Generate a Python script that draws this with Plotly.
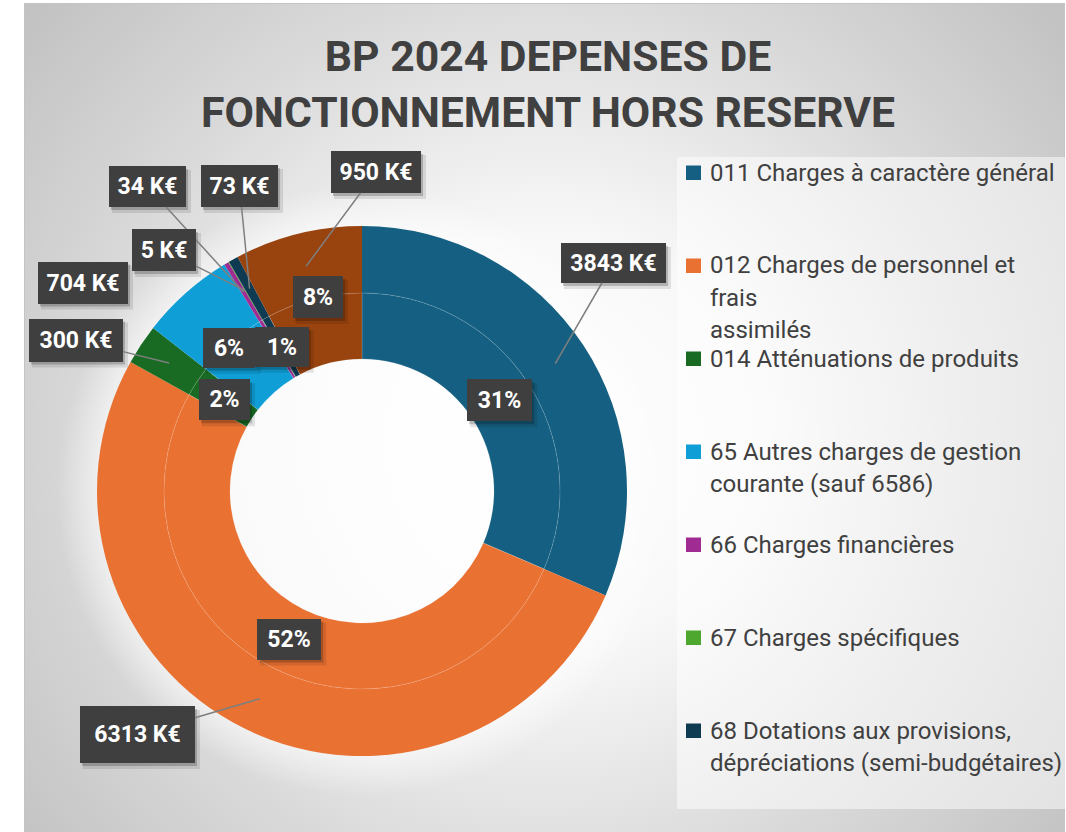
import base64
import math
import plotly.graph_objects as go

# ---------------- data ----------------
CATEGORIES = [
    "011 Charges à caractère général",
    "012 Charges de personnel et frais assimilés",
    "014 Atténuations de produits",
    "65 Autres charges de gestion courante (sauf 6586)",
    "66 Charges financières",
    "67 Charges spécifiques",
    "68 Dotations aux provisions, dépréciations (semi-budgétaires)",
    "042 Opérations d'ordre de transfert",
]
VALUES_KEUR = [3843, 6313, 300, 704, 34, 5, 73, 950]
SHOW_PCT = [True, True, True, True, False, False, True, True]
COLORS = ["#156082", "#E97132", "#196B24", "#0F9ED5",
          "#A02B93", "#4EA72E", "#0E3A52", "#99430F"]
LEGEND_LINES = [
    ["011 Charges à caractère général"],
    ["012 Charges de personnel et", "frais", "assimilés"],
    ["014 Atténuations de produits"],
    ["65 Autres charges de gestion", "courante (sauf 6586)"],
    ["66 Charges financières"],
    ["67 Charges spécifiques"],
    ["68 Dotations aux provisions,", "dépréciations (semi-budgétaires)"],
]
TITLE_LINES = ["BP 2024 DEPENSES DE", "FONCTIONNEMENT HORS RESERVE"]

# ---------------- layout constants (pixels) ----------------
W, H = 1066, 832
CX, CY = 362, 491
R_OUT, R_MID, R_IN = 265, 198, 132
# label box centre / size for the value labels (outer ring)
OUT_BOX = [(613.5, 263, 105, 40), (137.5, 734.5, 115, 57), (76, 340, 94, 43),
           (83, 282.5, 90, 42), (147.5, 186.5, 77, 41), (164, 250, 64, 42),
           (239.5, 186, 77, 42), (376, 172, 90, 42)]
OUT_ARROW = [True, True, True, False, True, True, True, True]
PCT_BOX = [(65, 42), (64, 41), (51, 41), (52, 40), None, None, (54, 40), (50, 42)]
PCT_SHIFT = {3: (-23, 20), 7: (-4, 34)}
BOX_BG = "#3f3f3f"
TXT = "#404040"
FONT = "Roboto"


def dom(r):
    return dict(x=[(CX - r) / W, (CX + r) / W], y=[1 - (CY + r) / H, 1 - (CY - r) / H])


def to_paper(px, py):
    return px / W, 1 - py / H


total = sum(VALUES_KEUR)
mid_angles = []
acc = 0.0
for v in VALUES_KEUR:
    mid_angles.append((acc + v / 2) / total * 2 * math.pi)
    acc += v


def ring_point(i, r):
    a = mid_angles[i]
    return CX + r * math.sin(a), CY - r * math.cos(a)


fig = go.Figure()
fig.add_trace(go.Pie(
    labels=CATEGORIES, values=VALUES_KEUR, sort=False, direction="clockwise",
    rotation=0, hole=R_MID / R_OUT, domain=dom(R_OUT),
    marker=dict(colors=COLORS, line=dict(width=0)),
    textinfo="none", showlegend=False, name="K€",
    hovertemplate="%{label}<br>%{value} K€<extra></extra>",
))
fig.add_trace(go.Pie(
    labels=CATEGORIES, values=VALUES_KEUR, sort=False, direction="clockwise",
    rotation=0, hole=R_IN / R_MID, domain=dom(R_MID),
    marker=dict(colors=COLORS, line=dict(width=0.6, color="rgba(255,255,255,0.25)")),
    textinfo="none", showlegend=False, name="%",
    hovertemplate="%{label}<br>%{percent}<extra></extra>",
))

shapes, annotations = [], []
lab_font = dict(family=FONT, size=23, color="white", weight="bold")


def shadow(cx_px, cy_px, w, h):
    # soft drop shadow, drawn as two offset translucent rectangles
    xa, ya = to_paper(cx_px, cy_px)
    for dx, dy, grow, alpha in ((4, 5, 2, 0.10), (2, 3, 0, 0.20)):
        shapes.append(dict(type="rect", xref="paper", yref="paper", layer="above",
                           xsizemode="pixel", ysizemode="pixel", xanchor=xa, yanchor=ya,
                           x0=-w / 2 + dx - grow / 2, x1=w / 2 + dx + grow / 2,
                           y0=-h / 2 - dy - grow / 2, y1=h / 2 - dy + grow / 2,
                           fillcolor=f"rgba(0,0,0,{alpha})", line=dict(width=0)))


def label(x, y, text, w, h, arrow, ax=0, ay=0, xs=0, ys=0):
    annotations.append(dict(x=x, y=y, xref="paper", yref="paper", text=text, width=w, height=h,
                            borderpad=0, borderwidth=0, align="center", valign="middle",
                            showarrow=True, arrowhead=0, standoff=0, ax=ax, ay=ay,
                            axref="pixel", ayref="pixel", bgcolor=BOX_BG, arrowwidth=1.5,
                            arrowcolor="#7f7f7f" if arrow else "rgba(0,0,0,0)",
                            font=lab_font, xshift=xs, yshift=ys))


# percentage labels (inner ring)
r_pct = (R_IN + R_MID) / 2
for i, v in enumerate(VALUES_KEUR):
    if not SHOW_PCT[i]:
        continue
    px, py = ring_point(i, r_pct)
    x, y = to_paper(px, py)
    xs, ys = PCT_SHIFT.get(i, (0, 0))
    w, h = PCT_BOX[i]
    shadow(px + xs, py - ys, w, h)
    label(x, y, f"{round(v / total * 100)}%", w, h, False, xs=xs, ys=ys)

# value labels (outer ring) with leader lines
r_val = (R_MID + R_OUT) / 2
for i, v in enumerate(VALUES_KEUR):
    tx, ty = ring_point(i, r_val)
    bx, by, w, h = OUT_BOX[i]
    x, y = to_paper(tx, ty)
    shadow(bx, by, w, h)
    label(x, y, f"{v} K€", w, h, OUT_ARROW[i], ax=bx - tx, ay=by - ty)

# legend (Excel style fixed slots)
for k, lines in enumerate(LEGEND_LINES):
    ly = 172.5 + 93 * k
    shapes.append(dict(type="rect", xref="paper", yref="paper",
                       x0=686 / W, x1=701 / W, y0=1 - (ly + 7.5) / H, y1=1 - (ly - 7) / H,
                       fillcolor=COLORS[k], line=dict(width=0)))
    for j, line in enumerate(lines):
        annotations.append(dict(x=708 / W, y=1 - (ly + 32 * j) / H, xref="paper", yref="paper",
                                text=line, showarrow=False, xanchor="left", yanchor="middle",
                                font=dict(family=FONT, size=24, color=TXT)))

# background: radial gradient chart area + legend panel
svg = f'''<svg xmlns="http://www.w3.org/2000/svg" width="{W}" height="{H}" viewBox="0 0 {W} {H}">
<defs>
<radialGradient id="bg" gradientUnits="userSpaceOnUse" cx="545" cy="440" r="690">
<stop offset="0" stop-color="#ffffff"/>
<stop offset="0.3" stop-color="#f8f8f8"/>
<stop offset="0.66" stop-color="#d9d9d9"/>
<stop offset="1" stop-color="#c0c0c0"/>
</radialGradient>
<radialGradient id="halo" gradientUnits="userSpaceOnUse" cx="{CX}" cy="{CY}" r="{R_OUT + 40}">
<stop offset="0.82" stop-color="#ffffff" stop-opacity="0.75"/>
<stop offset="1" stop-color="#ffffff" stop-opacity="0"/>
</radialGradient>
</defs>
<rect width="{W}" height="{H}" fill="#ffffff"/>
<rect x="24.5" y="3.5" width="1040" height="850" fill="url(#bg)" stroke="#c4c4c4" stroke-width="1"/>
<circle cx="{CX}" cy="{CY}" r="{R_OUT + 40}" fill="url(#halo)"/>
<rect x="677" y="157" width="389" height="652" fill="#ffffff" fill-opacity="0.5"/>
</svg>'''
src = "data:image/svg+xml;base64," + base64.b64encode(svg.encode("utf-8")).decode("ascii")

fig.update_layout(
    width=W, height=H, autosize=False,
    margin=dict(l=0, r=0, t=0, b=0),
    paper_bgcolor="white",
    images=[dict(source=src, xref="paper", yref="paper", x=0, y=1, sizex=1, sizey=1,
                 xanchor="left", yanchor="top", sizing="stretch", layer="below")],
    title=dict(text="<br>".join(TITLE_LINES), x=548 / W, xanchor="center",
               y=1 - 71 / H, yanchor="middle",
               font=dict(family=FONT, size=42.7, color=TXT, weight="bold")),
    annotations=annotations,
    shapes=shapes,
    showlegend=False,
)

fig.write_html("out.html", config={"displayModeBar": False},
               post_script="document.body.style.margin='0';document.body.style.overflow='hidden';")
